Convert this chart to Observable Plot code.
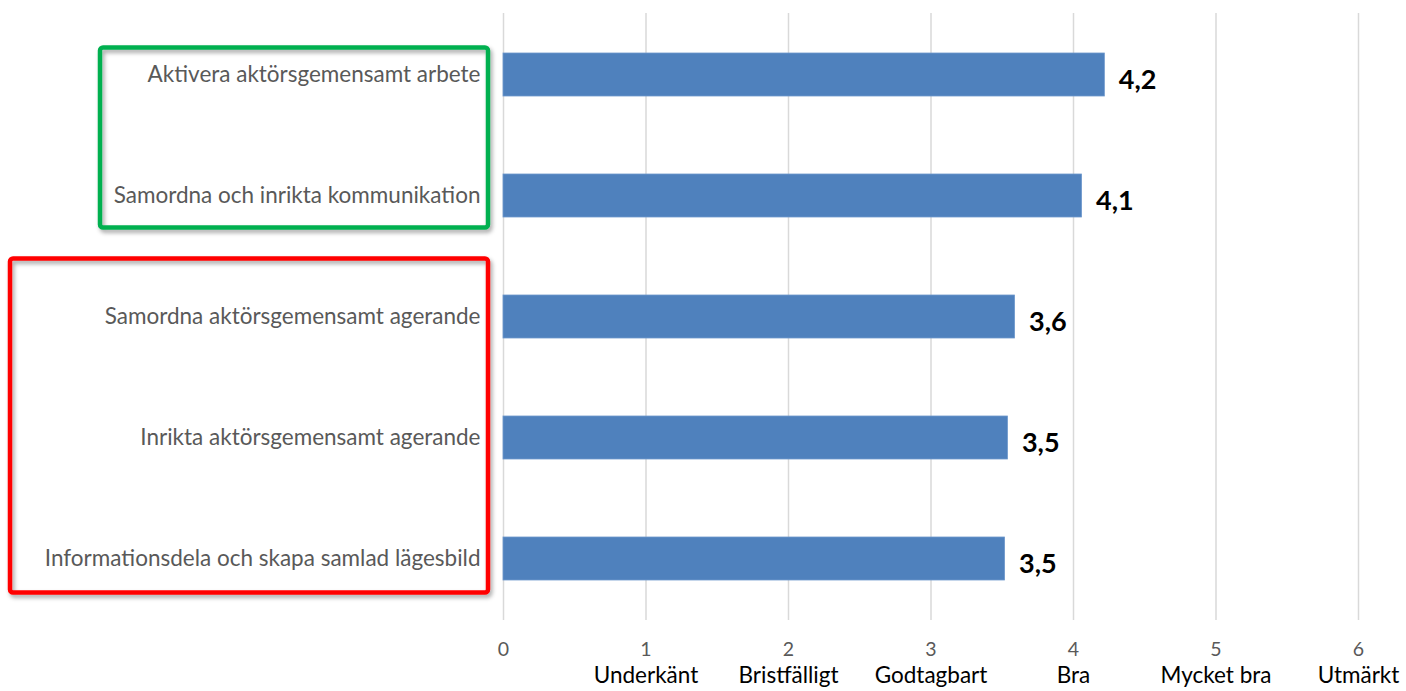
<!DOCTYPE html>
<html>
<head>
<meta charset="utf-8">
<script src="https://cdn.jsdelivr.net/npm/d3@7"></script>
<script src="https://cdn.jsdelivr.net/npm/@observablehq/plot@0.6"></script>
<style>
  html, body { margin: 0; padding: 0; background: #fff; }
  #chart svg { display: block; font-family: Lato, "Open Sans", sans-serif; }
</style>
</head>
<body>
<div id="chart"></div>
<script>
const categories = [
  "Aktivera aktörsgemensamt arbete",
  "Samordna och inrikta kommunikation",
  "Samordna aktörsgemensamt agerande",
  "Inrikta aktörsgemensamt agerande",
  "Informationsdela och skapa samlad lägesbild"
];
const values = [4.22, 4.06, 3.59, 3.54, 3.52];
const ratingTicks = [0, 1, 2, 3, 4, 5, 6];
const ratingNames = ["", "Underkänt", "Bristfälligt", "Godtagbart", "Bra", "Mycket bra", "Utmärkt"];

const data = categories.map((c, i) => ({category: c, value: values[i]}));
const fmt = v => d3.format(".1f")(v).replace(".", ",");

const plot = Plot.plot({
  width: 1406,
  height: 691,
  marginLeft: 503,
  marginRight: 48,
  marginTop: 13,
  marginBottom: 71,
  style: {fontFamily: "Lato, 'Open Sans', sans-serif", background: "#fff"},
  x: {domain: [0, 6]},
  y: {domain: categories, paddingInner: 0.646, paddingOuter: 0.32},
  marks: [
    Plot.ruleX(ratingTicks, {stroke: "#d9d9d9", strokeWidth: 1.5}),
    Plot.barX(data, {x: "value", y: "category", fill: "#4F81BD", stroke: "#6E98CC", strokeWidth: 0.8}),
    Plot.text(data, {
      x: "value", y: "category", text: d => fmt(d.value),
      textAnchor: "start", dx: 14, dy: 5,
      fontSize: 27, fontWeight: "bold", fill: "#000"
    }),
    Plot.axisY({tickSize: 0, tickPadding: 23, fontSize: 22.5, fill: "#595959", label: null}),
    Plot.axisX({ticks: ratingTicks, tickSize: 0, tickPadding: 22, fontSize: 19.5, fill: "#595959", label: null, tickFormat: d => String(d)}),
    Plot.axisX({ticks: ratingTicks, tickSize: 0, tickPadding: 47, fontSize: 22.5, fill: "#000", label: null, tickFormat: d => ratingNames[ratingTicks.indexOf(d)]})
  ]
});

document.getElementById("chart").appendChild(plot);

// Grouping boxes, positioned from the y band scale
const yScale = plot.scale("y");
const band = yScale.bandwidth;
const center = c => yScale.apply(c) + band / 2;
const svg = d3.select(plot);
const defs = svg.append("defs");
const f = defs.append("filter").attr("id", "shadow").attr("x", "-5%").attr("y", "-5%").attr("width", "115%").attr("height", "115%");
f.append("feDropShadow").attr("dx", 2).attr("dy", 3).attr("stdDeviation", 2).attr("flood-color", "#000").attr("flood-opacity", 0.35);

const groups = [
  {from: 0, to: 1, x1: 100, x2: 488, padTop: 27, padBottom: 32, color: "#00B050"},
  {from: 2, to: 4, x1: 10, x2: 488, padTop: 58, padBottom: 34, color: "#FF0000"}
];
groups.forEach(g => {
  const y1 = center(categories[g.from]) - g.padTop;
  const y2 = center(categories[g.to]) + g.padBottom;
  svg.append("rect")
    .attr("x", g.x1).attr("y", y1)
    .attr("width", g.x2 - g.x1).attr("height", y2 - y1)
    .attr("rx", 3)
    .attr("fill", "none")
    .attr("stroke", g.color)
    .attr("stroke-width", 4.5)
    .attr("filter", "url(#shadow)");
});
</script>
</body>
</html>
